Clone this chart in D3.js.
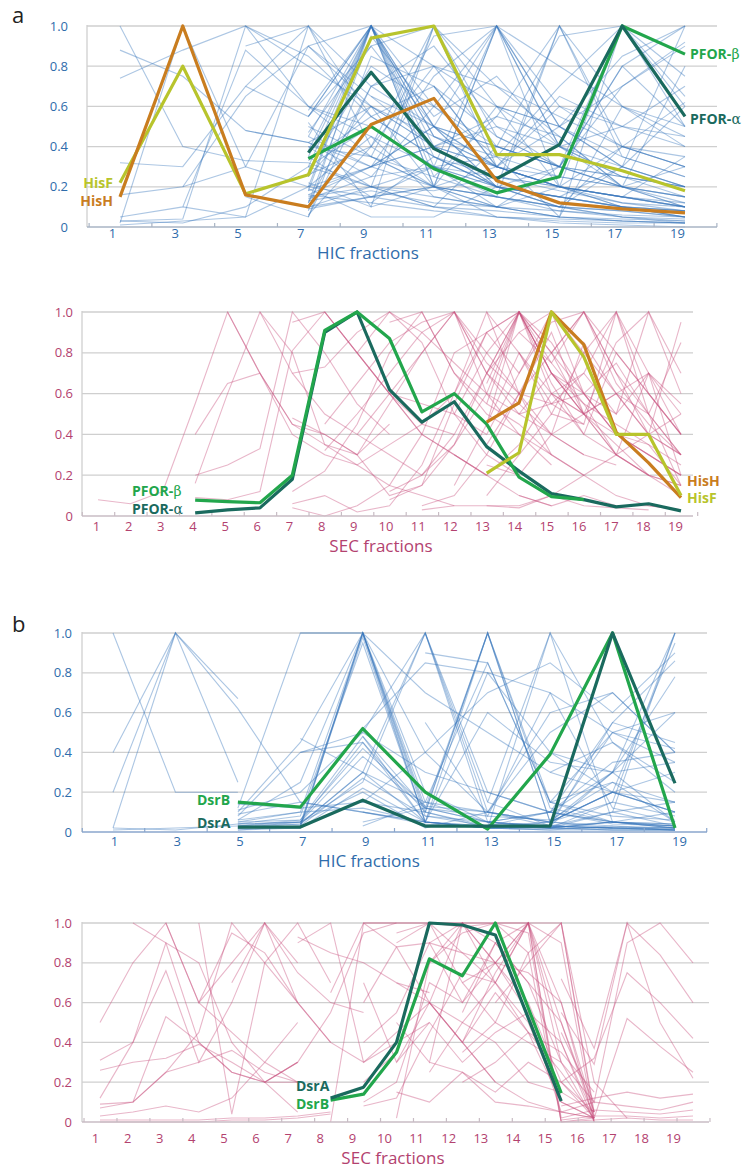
<!DOCTYPE html>
<html>
<head>
<meta charset="utf-8">
<script src="https://cdn.jsdelivr.net/npm/d3@7"></script>
<style>
  body { margin: 0; background: #fff; }
  svg { display: block; font-family: "Open Sans", "Noto Sans", sans-serif; }
</style>
</head>
<body>
<svg id="chart" width="746" height="1170"></svg>
<script>
var yTicks = [0, 0.2, 0.4, 0.6, 0.8, 1.0],
    hicLabels = [1, 3, 5, 7, 9, 11, 13, 15, 17, 19],
    secLabels = d3.range(1, 20);

// profiles: first number = starting fraction, then the relative values
// (HIC panels step 2 fractions, SEC panels step 1)

// ---- panel a, HIC ----
var hisH_hicA  = [1, .15, 1.0, .16, .10, .51, .64, .23, .12, .09, .07];
var hisF_hicA  = [1, .22, .80, .165, .26, .94, 1.0, .36, .36, .28, .18];
var pforA_hicA = [7, .37, .77, .39, .24, .41, 1.0, .55];
var pforB_hicA = [7, .34, .50, .29, .17, .25, 1.0, .86];
var bg_hicA = [
  [1, 1.0, .40, .33, .32, .20, .10, .05, .03, .02, .02],
  [1, .88, .75, .48, .42, .30, .20, .15, .10, .08, .05],
  [1, .74, .88, 1.0, .60, .35, .20, .15, .10, .05, .04],
  [1, .32, .30, .70, 1.0, .55, .35, .20, .15, .10, .08],
  [1, .16, .20, .65, .90, 1.0, .50, .30, .20, .15, .10],
  [1, .05, .10, .88, .60, .45, .30, .25, .18, .12, .10],
  [1, .03, .04, 1.0, .80, .60, .40, .30, .20, .12, .08],
  [1, .02, 1.0, .30, .20, .15, .10, .08, .05, .04, .03],
  [1, .01, .03, .05, 1.0, .40, .20, .10, .05, .03, .02],
  [1, .03, .02, .10, .30, 1.0, .30, .15, .08, .05, .03],
  [3, .20, .30, .90, .60, .40, .20, .10, .05, .02],
  [3, .10, .05, .20, 1.0, .20, .10, .05, .03, .02],
  [5, .15, .05, .70, .80, .40, .30, .20, .12],
  [5, .48, .42, .25, .30, .20, .15, .10, .05],
  [5, 1.0, .85, .55, .35, .25, .20, .15, .10],
  [5, .90, 1.0, .70, .50, .40, .30, .25, .20],
  [5, .70, .55, 1.0, .45, .35, .25, .20, .15],
  [7, .58, 1.0, .50, .30, .20, .15, .10],
  [7, .55, .90, 1.0, .60, .40, .30, .20],
  [7, .50, .35, .95, 1.0, .50, .30, .20],
  [7, .45, .30, .40, .55, 1.0, .60, .40],
  [7, .40, .20, .30, .35, .70, 1.0, .60],
  [7, .35, .15, .20, .30, .50, .85, 1.0],
  [7, .30, .50, .30, .20, .15, .10, .05],
  [7, .28, .80, .60, 1.0, .50, .30, .20],
  [7, .25, .60, .20, .15, 1.0, .40, .30],
  [7, .22, .10, 1.0, .30, .20, .10, .05],
  [7, .20, .45, .15, .10, .30, 1.0, .50],
  [7, .18, .30, .50, .20, .10, .30, 1.0],
  [7, .15, .20, .10, .40, .30, .20, .80],
  [7, .12, .70, .90, .50, .40, .50, .70],
  [7, .10, .15, .20, .60, .50, .70, .90],
  [7, .08, 1.0, .40, .20, .10, .08, .05],
  [7, .05, .85, .70, .30, .20, .10, .08],
  [7, .38, 1.0, .20, .05, .02, .01, .00],
  [7, .42, .60, .45, .30, .25, .20, .30],
  [7, .52, .10, .20, 1.0, .60, .50, .40],
  [7, .60, .50, .30, .10, .05, .60, .45],
  [7, .26, .40, .80, .70, .45, .20, .15],
  [7, .19, .05, .05, .20, 1.0, .35, .25],
  [7, .14, .25, .60, .35, .05, 1.0, .75],
  [7, .33, .55, .70, .30, .60, .40, .30],
  [7, .47, .90, .50, .20, .15, .30, .60],
  [7, .20, .30, .40, .50, .30, .70, .92],
  [7, .10, .20, .15, .10, .20, .40, .62],
  [7, .16, .12, .08, .05, .04, .03, .02],
  [7, .13, .18, .12, .10, .08, .06, .05],
  [7, .90, .65, .50, 1.0, .40, .25, .15],
  [7, .55, 1.0, .60, .40, .30, .25, .20],
  [7, .45, 1.0, .35, .20, .15, .10, .08],
  [7, .35, 1.0, .80, .60, .50, .35, .25],
  [7, .25, 1.0, .45, .30, .65, .50, .45],
  [7, .18, 1.0, .25, .15, .10, .40, .30],
  [7, .12, .95, .55, .75, .40, .20, .10],
  [7, .06, .40, 1.0, .45, .30, .20, .15],
  [7, .30, .20, 1.0, .70, .55, .40, .35],
  [7, .16, .30, .75, 1.0, .40, .25, .20],
  [7, .40, .35, .20, 1.0, .80, .60, .50],
  [7, .09, .15, .30, 1.0, .20, .15, .10],
  [9, .35, .25, .55, .45, .20, .10],
  [9, .20, .18, .25, .20, .15, .12],
  [9, .65, .40, .30, .20, 1.0, .55],
  [9, .30, .50, .40, .95, 1.0, .65],
  [9, .12, .35, .20, .30, .80, 1.0],
  [11, .70, .45, .30, .80, .50],
  [13, .60, .20, .15, .35]
];

// ---- panel a, SEC ----
var pforB_secA = [4, .078, .07, .065, .20, .91, 1.0, .87, .51, .60, .45, .19, .095, .08];
var pforA_secA = [4, .015, .03, .04, .18, .90, 1.0, .62, .46, .56, .34, .22, .11, .08, .045, .06, .025];
var hisH_secA  = [13, .46, .555, 1.0, .84, .41, .26, .09];
var hisF_secA  = [13, .21, .31, 1.0, .78, .40, .40, .10];
var bg_secA = [
  [1, .08, .06, .12, .55, 1.0, .70, .45, .35, .30],
  [4, .40, .65, .70, .45, .40, .30, .45],
  [4, .20, .25, .33, 1.0, .80, .55, .40],
  [4, .16, .60, 1.0, .70, .50, .40, .30, .20],
  [4, .09, .08, .12, .81, 1.0, .80, .60, .45],
  [5, 1.0, .70, .40, .30, .25, .35, .45, .40],
  [6, 1.0, .80, .35, .25, .15, .10, .05],
  [7, .95, 1.0, .80, .60, .40, .30, .20],
  [7, .70, .73, .90, 1.0, .85, .50, .30, .20],
  [7, .48, .40, .30, .55, .80, 1.0, .60, .40, .25],
  [7, .12, .22, .45, .80, 1.0, .70, .55, .45, .30],
  [7, .06, .10, .02, .05, .25, .60, 1.0, .60, .30, .20],
  [7, .04, .00, .05, .15, .40, .80, .90, 1.0, .70, .50],
  [8, 1.0, .80, .60, .40, .30, .20, .10, .05],
  [8, .45, .65, .85, .95, 1.0, .80, .60, .40],
  [8, .32, .50, .70, .90, 1.0, .75, .60, .55, .45],
  [9, .80, 1.0, .90, .75, .60, .50, .40, .30],
  [9, .40, .60, .80, 1.0, .70, .55, .40, .30, .25],
  [9, .30, .10, .15, .35, .60, 1.0, .80, .50, .30, .20],
  [10, .12, .20, .40, .70, 1.0, .80, .60, .40, .30, .20],
  [10, .08, .15, .55, .90, 1.0, .70, .50, .35, .20, .10],
  [10, .95, 1.0, .70, .50, .40, .30, .20, .10, .05, .03],
  [10, .60, .55, .50, .80, 1.0, .70, .50, .60, .70, .50],
  [11, .20, .35, .70, 1.0, .85, .60, .40, .30, .20],
  [11, .45, .60, .90, .70, 1.0, .80, .60, .40, .30],
  [11, .05, .10, .30, .60, .80, 1.0, .70, .50, .30],
  [11, .03, .05, .05, .04, .10, .05, .04, .03],
  [12, 1.0, .70, .50, .55, .60, .75, .50, .30],
  [12, .50, .40, .70, .95, 1.0, .80, .60, .40],
  [12, .30, .20, .35, .60, .50, .85, 1.0, .70],
  [12, .15, .45, 1.0, .70, .55, .30, .20, .15],
  [13, 1.0, .80, .60, .50, .40, .30, .20],
  [13, .70, .90, 1.0, .60, .40, .35, .15],
  [13, .55, 1.0, .65, .40, .80, .60, .40],
  [13, .45, .80, .55, .70, .50, 1.0, .60],
  [13, .35, .60, .90, .50, .30, .40, .95],
  [13, .25, .20, .40, .85, .60, .50, .85],
  [13, .10, .30, .50, .45, 1.0, .70, .55],
  [13, .05, .05, .10, .20, .30, .70, .40],
  [13, .65, 1.0, .75, .55, .45, .35, .25],
  [14, 1.0, .60, .40, .30, .20, .15],
  [14, .80, .50, .80, 1.0, .60, .40],
  [14, .50, .70, .60, .50, .70, .20],
  [14, .10, .05, .10, .05, .05, .03],
  [14, .90, .75, 1.0, .65, .45, .30],
  [15, .80, 1.0, .70, .40, .30],
  [15, .60, .70, 1.0, .50, .15],
  [15, .40, .50, .60, .40, .50]
];

// ---- panel b, HIC ----
var dsrB_hicB = [5, .15, .125, .52, .20, .015, .39, 1.0, .02];
var dsrA_hicB = [5, .025, .025, .16, .03, .03, .03, 1.0, .245];
var bg_hicB = [
  [1, 1.0, .20, .20],
  [1, .40, 1.0, .67],
  [1, .20, 1.0, .25],
  [1, .02, 1.0, .62, .15, .10, .05],
  [1, .01, .02, .03],
  [1, .02, .01, .04, .05],
  [5, .12, 1.0, 1.0, .70, .50, .30, .20, .10],
  [5, .10, .45, 1.0, .20, .05, .03, .02, .02],
  [5, .08, .40, .50, .30, .20, .10, .05, .03],
  [5, .06, .25, 1.0, .05, .02, .02, .02, .01],
  [5, .05, .10, 1.0, .10, .03, .02, .01, .01],
  [5, .04, .08, .95, .05, .02, .01, .01, .01],
  [5, .03, .06, .48, .12, .05, .03, .02, .02],
  [5, .02, .05, .45, .10, .02, .03, .30, .05],
  [5, .02, .04, .30, .05, .02, .05, .20, .10],
  [5, .01, .03, .27, .08, .05, .02, .10, .15],
  [5, .02, .02, .22, .05, .03, .10, .35, .40],
  [5, .03, .05, .20, .02, .10, .05, .50, .60],
  [5, .06, .10, .12, .05, .03, .02, .05, .02],
  [5, .09, .15, .10, .04, .02, .01, .03, .01],
  [5, .11, .20, .50, 1.0, .20, .10, .05, .03],
  [5, .14, .12, .15, .10, 1.0, .15, .05, .02],
  [5, .02, .03, 1.0, .12, .05, .03, .02, .02],
  [5, .01, .02, 1.0, .08, .03, .02, .02, .01],
  [5, .03, .04, 1.0, .15, .05, .10, .04, .03],
  [5, .02, .03, .98, .05, .02, .02, .05, .03],
  [5, .05, .06, .42, .13, .10, .05, .20, .30],
  [5, .04, .05, .38, .12, .08, .06, .25, .15],
  [7, 1.0, 1.0, .40, .10, .03, .02, .01],
  [7, .47, .30, .15, .10, .50, .70, .40],
  [7, .40, .45, .05, .60, .35, .30, .35],
  [7, .05, .25, 1.0, .10, .05, .02],
  [7, .04, .30, 1.0, .15, .03, .05, .10],
  [9, .52, .85, .80, .40, .20, .15],
  [9, .48, .05, 1.0, .05, .03, .02],
  [9, .15, .40, .70, .85, .60, .90],
  [9, .10, .05, .02, 1.0, .05, .02],
  [9, .05, .12, 1.0, .12, .05, .04],
  [9, .03, .15, .85, .15, .08, .06],
  [11, 1.0, .05, .02, .01, .01],
  [11, .90, .85, .15, .50, .42],
  [11, .55, .08, .70, .50, .35],
  [11, .10, 1.0, .05, .20, .10],
  [11, .05, .80, .70, .12, .05],
  [13, .15, 1.0, .45, .25],
  [13, .10, .60, .70, .40],
  [13, .05, .10, .30, 1.0],
  [13, .03, .05, .20, .95],
  [13, .02, .03, .55, .86],
  [13, .02, .03, .10, 1.0],
  [13, .04, .02, .15, 1.0],
  [15, .40, .30, .78],
  [15, .30, .45, .20],
  [15, .15, .25, .05],
  [15, .05, .15, .08],
  [15, .02, .05, .04],
  [15, .05, .30, .60],
  [15, .10, .55, .45],
  [17, .10, .03]
];

// ---- panel b, SEC ----
var dsrA_secB = [8, .12, .175, .40, 1.0, .99, .94, null, .105];
var dsrB_secB = [8, .11, .14, .35, .82, .735, 1.0, null, .145];
var bg_secB = [
  [1, .50, .80, 1.0, .60, .45, .30, .20],
  [1, .31, .40, .90, .80, .40, .20, .05],
  [1, .26, .30, .32, .39, .30, .20, .30],
  [1, .12, .40, .76, .30, .60, 1.0, .80],
  [1, .09, .10, .53, .40, .25, .20, .20],
  [1, .07, .10, .25, .30, .36, .25, .20],
  [1, .03, .05, .08, .05, .12, .30, .50],
  [1, .01, .01, .01, .01, .02, .02, .03, .05],
  [1, .00, .00, .00, .00, .01, .01, .02, .04],
  [2, 1.0, .90, .40, .25, .20, .30],
  [2, .10, .25, .45, 1.0, .80, .60],
  [3, 1.0, .60, .95, .85, .60, .40],
  [4, 1.0, .04, .80, 1.0, .70],
  [4, .60, .80, 1.0, .75, .60, .55],
  [5, .70, 1.0, .60, .40, .30],
  [6, .20, .30, .55, .95, 1.0],
  [7, .93, .85, .80, .70, .65],
  [7, .90, 1.0, .30, .40, .50],
  [8, .65, 1.0, .88, .60, .40, .20],
  [8, .00, 1.0, 1.0, 1.0, 1.0, 1.0, 1.0, 1.0, .05],
  [9, .70, .30, .60, .40, .20, .10, .05, .02],
  [9, .60, .88, .90, .85, .70, .50, .10],
  [9, .40, .55, .90, .60, .80, 1.0, .30],
  [9, .20, .35, .80, .95, 1.0, .85, .00],
  [9, .10, .20, .70, .60, .90, 1.0, .00, .02],
  [9, .08, .12, .45, .75, .70, 1.0, .60, .05],
  [9, 1.0, 1.0, 1.0, 1.0, 1.0, .95, .00],
  [9, .30, .45, .60, 1.0, .80, .55, .05],
  [10, .90, 1.0, .70, .50, .40, .30, .10],
  [10, .50, .30, 1.0, .80, .60, .20, .05],
  [10, .30, .50, .30, .45, .55, .40, .00],
  [10, .15, .10, .25, .15, .30, .20, .02],
  [10, .02, .80, 1.0, .70, .45, .10, .02],
  [10, .95, 1.0, .98, 1.0, 1.0, .02],
  [10, .70, .60, .50, .70, 1.0, .40, .03],
  [11, .60, .40, .65, .45, .35, .15],
  [11, .25, .50, .40, .20, .15, .05],
  [11, .30, .25, .10, .08, .05, .02],
  [11, 1.0, .85, .80, .75, .60, .00],
  [11, .90, 1.0, .90, .70, .50, .02],
  [12, .55, .90, .70, .30, .01],
  [12, .40, .75, 1.0, .50, .05],
  [12, .20, .30, .45, .25, .02],
  [12, .70, .80, 1.0, .90, .00],
  [12, .35, .50, .85, 1.0, .20, .02],
  [13, .60, .80, 1.0, .03],
  [15, .72, .37, 1.0, .84, .60],
  [15, .55, .29, 1.0, .50, .22],
  [15, .45, .10, .90, 1.0, .80],
  [15, .20, .32, .75, .60, .42],
  [15, .10, .02, .52, .38, .25],
  [15, .08, .12, .15, .12, .14],
  [15, .05, .10, .08, .06, .10],
  [15, .02, .06, .05, .04, .06],
  [15, .01, .03, .03, .02, .03],
  [15, .00, .01, .02, .01, .01]
];

var blue = "#2f6cab", pink = "#b3426f",
    cHisH = "#c97d1f", cHisF = "#b8c42c", cGreen = "#22a64c", cTeal = "#1a6a5e";

var panels = [
  { tag: "a", tagY: 23, title: "HIC fractions", titleX: 368, titleY: 259,
    top: 26, bottom: 227, left: 87, right: 717, yLabX: 68,
    xRange: [120, 685], labRange: [112, 677], xLabY: 238,
    ticks: d3.range(0, 21, 2), labels: hicLabels, step: 2,
    text: blue, line: "#3a78bd", axis: "#a9b4c4", bg: bg_hicA,
    hl: [ { v: pforB_hicA, c: cGreen }, { v: pforA_hicA, c: cTeal },
          { v: hisF_hicA, c: cHisF }, { v: hisH_hicA, c: cHisH } ],
    notes: [ { t: "HisF", x: 113, y: 188, c: cHisF, a: "end" },
             { t: "HisH", x: 113, y: 206, c: cHisH, a: "end" },
             { t: "PFOR-", g: "β", x: 690, y: 59, c: cGreen, a: "start" },
             { t: "PFOR-", g: "α", x: 690, y: 124, c: cTeal, a: "start" } ] },
  { title: "SEC fractions", titleX: 381, titleY: 552,
    top: 312, bottom: 516, left: 82, right: 693, yLabX: 73,
    xRange: [98, 681], labRange: [96, 675], xLabY: 531,
    ticks: d3.range(0.5, 20, 1), labels: secLabels, step: 1,
    text: pink, line: "#c9507e", axis: "#c8bcc4", bg: bg_secA,
    hl: [ { v: pforA_secA, c: cTeal }, { v: pforB_secA, c: cGreen },
          { v: hisH_secA, c: cHisH }, { v: hisF_secA, c: cHisF } ],
    notes: [ { t: "PFOR-", g: "β", x: 132, y: 496, c: cGreen, a: "start" },
             { t: "PFOR-", g: "α", x: 132, y: 514, c: cTeal, a: "start" },
             { t: "HisH", x: 687, y: 486, c: cHisH, a: "start" },
             { t: "HisF", x: 687, y: 503, c: cHisF, a: "start" } ] },
  { tag: "b", tagY: 632, title: "HIC fractions", titleX: 369, titleY: 867,
    top: 633, bottom: 832, left: 82, right: 707, yLabX: 72,
    xRange: [113, 675], labRange: [114, 679], xLabY: 846,
    ticks: d3.range(0, 21, 2), labels: hicLabels, step: 2,
    text: blue, line: "#3a78bd", axis: "#8aa6cc", bg: bg_hicB,
    hl: [ { v: dsrB_hicB, c: cGreen }, { v: dsrA_hicB, c: cTeal } ],
    notes: [ { t: "DsrB", x: 197, y: 805, c: cGreen, a: "start" },
             { t: "DsrA", x: 197, y: 828, c: cTeal, a: "start" } ] },
  { title: "SEC fractions", titleX: 393, titleY: 1164,
    top: 923, bottom: 1122, left: 82, right: 709, yLabX: 72,
    xRange: [100, 693], labRange: [95, 673], xLabY: 1143,
    ticks: d3.range(0.5, 20, 1), labels: secLabels, step: 1,
    text: pink, line: "#c9507e", axis: "#c8bcc4", bg: bg_secB,
    hl: [ { v: dsrB_secB, c: cGreen }, { v: dsrA_secB, c: cTeal } ],
    notes: [ { t: "DsrA", x: 296, y: 1091, c: cTeal, a: "start" },
             { t: "DsrB", x: 296, y: 1109, c: cGreen, a: "start" } ] }
];

var svg = d3.select("#chart");

function toPoints(row, step) {
  var s = row[0];
  return row.slice(1).map(function(v, i) { return [s + i * step, v]; })
            .filter(function(d) { return d[1] != null; });
}

function drawPanel(p) {
  var g = svg.append("g"),
      x = d3.scaleLinear().domain([1, 19]).range(p.xRange),
      xl = d3.scaleLinear().domain([1, 19]).range(p.labRange),
      y = d3.scaleLinear().domain([0, 1]).range([p.bottom, p.top]);

  if (p.tag) {
    g.append("text").attr("x", 12).attr("y", p.tagY)
      .style("font-size", "22px").attr("fill", "#222").text(p.tag);
  }

  // grid
  g.selectAll(".grid").data(yTicks.slice(1)).enter().append("line")
    .attr("x1", p.left).attr("x2", p.right)
    .attr("y1", function(d) { return y(d); }).attr("y2", function(d) { return y(d); })
    .attr("stroke", "#cfcfcf").attr("stroke-width", 1.3);
  g.append("line").attr("x1", p.left).attr("x2", p.left)
    .attr("y1", p.top - 1).attr("y2", p.bottom)
    .attr("stroke", "#cfcfcf").attr("stroke-width", 1.3);

  // y labels
  var yAxis = d3.axisLeft(y).tickValues(yTicks).tickSize(0).tickPadding(0)
    .tickFormat(function(d) { return d === 0 ? "0" : d3.format(".1f")(d); });
  var ya = g.append("g").attr("transform", "translate(" + p.yLabX + ",0)").call(yAxis);
  ya.select(".domain").remove();
  ya.selectAll("text").attr("fill", p.text).style("font-size", "13px")
    .style("font-family", "'Open Sans', sans-serif");

  // background profiles
  var line = d3.line().x(function(d) { return x(d[0]); }).y(function(d) { return y(d[1]); });
  g.append("g").selectAll("path").data(p.bg).enter().append("path")
    .attr("d", function(r) { return line(toPoints(r, p.step)); })
    .attr("fill", "none").attr("stroke", p.line)
    .attr("stroke-opacity", 0.42).attr("stroke-width", 1.1);

  // bottom axis line and ticks
  g.append("line").attr("x1", p.left).attr("x2", p.right)
    .attr("y1", p.bottom).attr("y2", p.bottom)
    .attr("stroke", p.axis).attr("stroke-width", 1.5);
  var ta = g.append("g").attr("transform", "translate(0," + p.bottom + ")")
    .call(d3.axisBottom(x).tickValues(p.ticks).tickSize(-4).tickFormat(""));
  ta.select(".domain").remove();
  ta.selectAll("line").attr("stroke", p.axis).attr("stroke-width", 1.2);

  // x labels
  var xa = g.append("g").attr("transform", "translate(0," + p.xLabY + ")")
    .call(d3.axisBottom(xl).tickValues(p.labels).tickSize(0).tickFormat(d3.format("d")));
  xa.select(".domain").remove();
  xa.selectAll("text").attr("y", 0).attr("dy", 0).attr("fill", p.text)
    .style("font-size", "13px").style("font-family", "'Open Sans', sans-serif");

  g.append("text").attr("x", p.titleX).attr("y", p.titleY)
    .attr("text-anchor", "middle").attr("fill", p.text)
    .style("font-size", "17px").text(p.title);

  // highlighted proteins
  g.append("g").selectAll("path").data(p.hl).enter().append("path")
    .attr("d", function(h) { return line(toPoints(h.v, p.step)); })
    .attr("fill", "none").attr("stroke", function(h) { return h.c; })
    .attr("stroke-width", 3.2).attr("stroke-linejoin", "round");

  var notes = g.append("g").selectAll("text").data(p.notes).enter().append("text")
    .attr("x", function(n) { return n.x; }).attr("y", function(n) { return n.y; })
    .attr("text-anchor", function(n) { return n.a; })
    .attr("fill", function(n) { return n.c; })
    .style("font-size", "14px").style("font-weight", "bold");
  notes.append("tspan").text(function(n) { return n.t; });
  notes.filter(function(n) { return n.g; }).append("tspan")
    .style("font-weight", "normal").style("font-family", "'DejaVu Serif', serif")
    .text(function(n) { return n.g; });
}

panels.forEach(drawPanel);
</script>
</body>
</html>
